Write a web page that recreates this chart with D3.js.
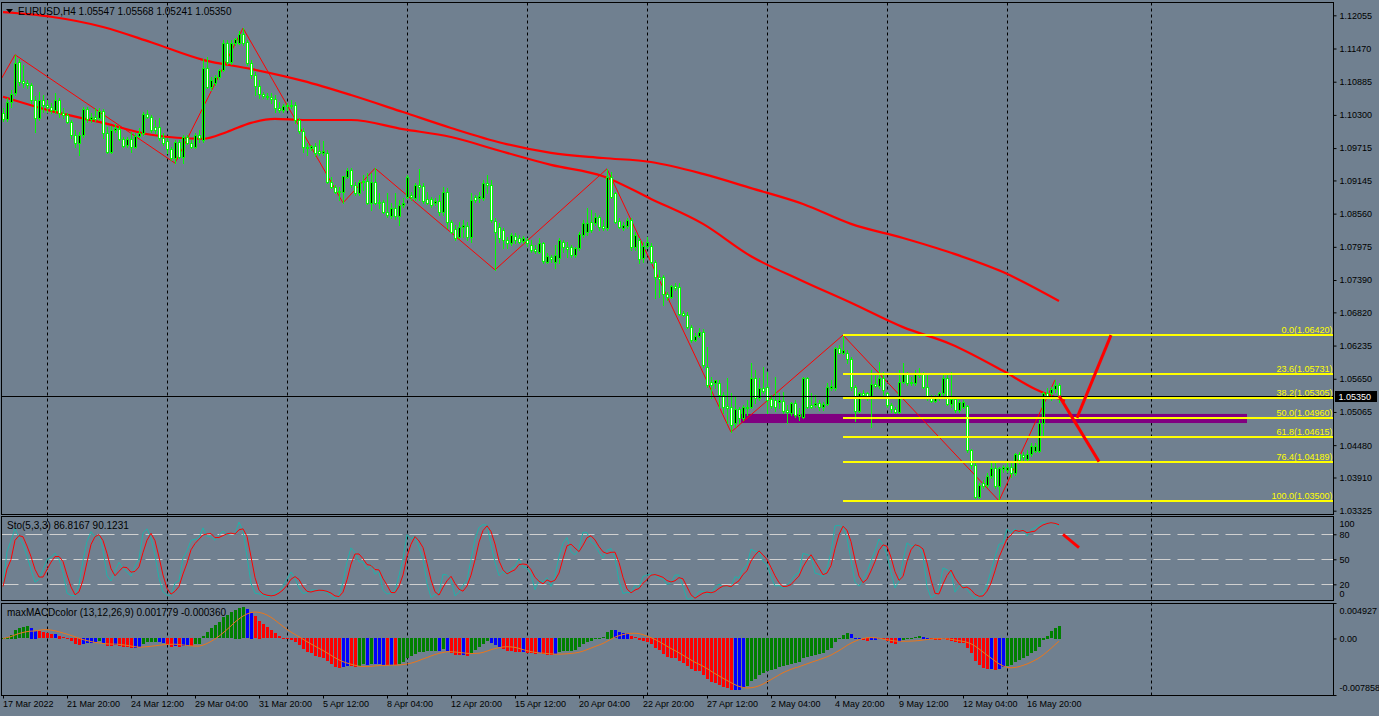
<!DOCTYPE html>
<html><head><meta charset="utf-8">
<script src="https://cdn.jsdelivr.net/npm/d3@7/dist/d3.min.js"></script>
<style>
html,body{margin:0;padding:0;background:#708090;overflow:hidden}
svg{display:block}
text{font-family:"Liberation Sans",Arial,sans-serif}
</style></head><body>
<script>
// ---------------- DATA ----------------
const titleText = "EURUSD,H4  1.05547 1.05568 1.05241 1.05350";
const stochTitle = "Sto(5,3,3) 86.8167 90.1231";
const macdTitle = "maxMACDcolor (13,12,26,9) 0.001779 -0.000360";

const opens = [
1.1033,1.1023,1.1053,1.1069,1.1123,1.1090,1.1086,1.1083,1.1056,1.1025,
1.1056,1.1047,1.1044,1.1039,1.1056,1.1033,1.1030,1.1017,1.0995,1.0980,
1.0995,1.1040,1.1023,1.1026,1.1025,1.1037,1.0998,1.0965,1.1003,1.1005,
1.0988,1.0977,1.0988,1.0973,1.0993,1.0998,1.1032,1.1026,1.1009,1.1009,
1.0989,1.0984,1.0970,1.0954,1.0982,1.0956,1.0991,1.0980,1.0973,1.0995,
1.0986,1.1113,1.1079,1.1086,1.1097,1.1109,1.1157,1.1123,1.1157,1.1157,
1.1173,1.1159,1.1122,1.1100,1.1081,1.1067,1.1063,1.1062,1.1058,1.1042,
1.1039,1.1046,1.1047,1.1047,1.1021,1.1002,1.0973,1.0972,1.0975,1.0966,
1.0963,1.0963,1.0912,1.0903,1.0894,1.0894,1.0921,1.0933,1.0907,1.0892,
1.0912,1.0914,1.0875,1.0912,1.0875,1.0876,1.0859,1.0852,1.0866,1.0852,
1.0871,1.0885,1.0889,1.0883,1.0907,1.0905,1.0882,1.0882,1.0875,1.0878,
1.0859,1.0894,1.0841,1.0829,1.0815,1.0833,1.0834,1.0815,1.0885,1.0883,
1.0883,1.0910,1.0907,1.0843,1.0833,1.0827,1.0810,1.0804,1.0817,1.0813,
1.0808,1.0810,1.0801,1.0794,1.0788,1.0804,1.0771,1.0780,1.0771,1.0778,
1.0806,1.0797,1.0797,1.0783,1.0795,1.0818,1.0824,1.0841,1.0840,1.0850,
1.0834,1.0831,1.0921,1.0892,1.0843,1.0831,1.0834,1.0845,1.0797,1.0810,
1.0778,1.0799,1.0799,1.0771,1.0744,1.0744,1.0714,1.0709,1.0729,1.0727,
1.0681,1.0677,1.0656,1.0633,1.0640,1.0647,1.0586,1.0559,1.0558,1.0558,
1.0536,1.0517,1.0515,1.0487,1.0512,1.0496,1.0515,1.0515,1.0566,1.0531,
1.0549,1.0550,1.0529,1.0528,1.0524,1.0526,1.0510,1.0505,1.0522,1.0499,
1.0498,1.0566,1.0519,1.0519,1.0522,1.0515,1.0521,1.0549,1.0549,1.0619,
1.0611,1.0611,1.0600,1.0550,1.0508,1.0540,1.0540,1.0531,1.0556,1.0552,
1.0566,1.0540,1.0519,1.0512,1.0506,1.0559,1.0573,1.0559,1.0558,1.0575,
1.0575,1.0550,1.0533,1.0526,1.0531,1.0540,1.0566,1.0521,1.0529,1.0510,
1.0515,1.0517,1.0439,1.0413,1.0357,1.0381,1.0378,1.0394,1.0408,1.0376,
1.0406,1.0404,1.0409,1.0399,1.0432,1.0430,1.0424,1.0432,1.0437,1.0437,
1.0487,1.0540,1.0540,1.0547,1.05547];

const highs = [
1.1042,1.1060,1.1074,1.1136,1.1129,1.1118,1.1092,1.1086,1.1063,1.1070,
1.1065,1.1056,1.1051,1.1069,1.1060,1.1042,1.1033,1.1021,1.1003,1.1000,
1.1044,1.1044,1.1033,1.1042,1.1042,1.1040,1.1009,1.1010,1.1014,1.1010,
1.0991,1.0991,1.1000,1.0998,1.1007,1.1035,1.1039,1.1030,1.1021,1.1025,
1.0998,1.0989,1.0973,1.0986,1.0986,1.0995,1.0995,1.0986,1.0998,1.1003,
1.1129,1.1132,1.1097,1.1100,1.1111,1.1162,1.1162,1.1162,1.1166,1.1178,
1.1183,1.1162,1.1127,1.1106,1.1092,1.1070,1.1069,1.1069,1.1065,1.1053,
1.1049,1.1051,1.1056,1.1053,1.1025,1.1007,1.0980,1.0977,1.0980,1.0986,
1.0984,1.0968,1.0921,1.0907,1.0903,1.0922,1.0936,1.0936,1.0912,1.0915,
1.0924,1.0928,1.0928,1.0936,1.0892,1.0880,1.0892,1.0875,1.0892,1.0880,
1.0883,1.0924,1.0894,1.0910,1.0935,1.0910,1.0894,1.0885,1.0883,1.0889,
1.0903,1.0901,1.0845,1.0836,1.0841,1.0845,1.0841,1.0892,1.0889,1.0894,
1.0915,1.0924,1.0915,1.0848,1.0840,1.0831,1.0815,1.0822,1.0822,1.0818,
1.0817,1.0813,1.0810,1.0801,1.0813,1.0806,1.0787,1.0783,1.0801,1.0813,
1.0810,1.0806,1.0801,1.0797,1.0824,1.0845,1.0866,1.0862,1.0857,1.0854,
1.0845,1.0935,1.0930,1.0894,1.0848,1.0841,1.0848,1.0848,1.0824,1.0813,
1.0806,1.0815,1.0804,1.0774,1.0757,1.0748,1.0718,1.0730,1.0734,1.0734,
1.0684,1.0683,1.0660,1.0646,1.0654,1.0653,1.0621,1.0568,1.0563,1.0563,
1.0541,1.0566,1.0540,1.0533,1.0515,1.0519,1.0528,1.0593,1.0580,1.0566,
1.0586,1.0577,1.0536,1.0568,1.0540,1.0542,1.0519,1.0524,1.0528,1.0513,
1.0568,1.0568,1.0540,1.0536,1.0528,1.0524,1.0558,1.0563,1.0621,1.0624,
1.0642,1.0616,1.0604,1.0554,1.0542,1.0545,1.0542,1.0580,1.0575,1.0595,
1.0577,1.0542,1.0522,1.0515,1.0580,1.0593,1.0577,1.0568,1.0580,1.0584,
1.0577,1.0575,1.0536,1.0536,1.0542,1.0575,1.0575,1.0577,1.0533,1.0528,
1.0528,1.0519,1.0442,1.0416,1.0381,1.0387,1.0399,1.0418,1.0418,1.0409,
1.0413,1.0418,1.0416,1.0434,1.0436,1.0436,1.0439,1.0451,1.0451,1.0492,
1.0542,1.0549,1.0550,1.0563,1.05568];

const lows = [
1.1019,1.1019,1.1044,1.1065,1.1083,1.1079,1.1077,1.1051,1.1000,1.1021,
1.1035,1.1035,1.1033,1.1033,1.1026,1.1025,1.1016,1.0989,1.0973,1.0959,
1.0991,1.1017,1.1017,1.1019,1.1021,1.0989,1.0963,1.0963,1.1000,1.0986,
1.0973,1.0973,1.0965,1.0972,1.0991,1.0995,1.1025,1.1000,1.0998,1.0986,
1.0977,1.0963,1.0951,1.0945,1.0954,1.0945,1.0979,1.0972,1.0972,1.0982,
1.0982,1.1077,1.1074,1.1083,1.1093,1.1107,1.1120,1.1120,1.1153,1.1155,
1.1153,1.1118,1.1095,1.1065,1.1060,1.1060,1.1058,1.1051,1.1035,1.1035,
1.1035,1.1039,1.1042,1.1016,1.0998,1.0965,1.0959,1.0968,1.0958,1.0959,
1.0959,1.0910,1.0901,1.0892,1.0880,1.0875,1.0919,1.0903,1.0889,1.0889,
1.0898,1.0873,1.0862,1.0873,1.0866,1.0857,1.0850,1.0848,1.0847,1.0836,
1.0868,1.0883,1.0880,1.0880,1.0880,1.0875,1.0873,1.0868,1.0871,1.0854,
1.0854,1.0831,1.0822,1.0810,1.0813,1.0815,1.0810,1.0806,1.0876,1.0876,
1.0880,1.0892,1.0841,1.0757,1.0806,1.0796,1.0795,1.0801,1.0804,1.0804,
1.0804,1.0799,1.0788,1.0787,1.0787,1.0769,1.0769,1.0771,1.0760,1.0769,
1.0788,1.0780,1.0780,1.0780,1.0792,1.0815,1.0818,1.0824,1.0836,1.0827,
1.0827,1.0827,1.0883,1.0840,1.0831,1.0827,1.0831,1.0792,1.0792,1.0769,
1.0771,1.0795,1.0769,1.0707,1.0709,1.0695,1.0704,1.0707,1.0721,1.0677,
1.0676,1.0654,1.0630,1.0632,1.0639,1.0586,1.0551,1.0531,1.0549,1.0513,
1.0505,1.0487,1.0471,1.0480,1.0487,1.0492,1.0501,1.0513,1.0522,1.0528,
1.0540,1.0505,1.0513,1.0508,1.0513,1.0505,1.0487,1.0501,1.0498,1.0492,
1.0496,1.0513,1.0513,1.0515,1.0510,1.0510,1.0519,1.0545,1.0545,1.0611,
1.0609,1.0593,1.0545,1.0491,1.0506,1.0531,1.0528,1.0480,1.0550,1.0549,
1.0536,1.0515,1.0506,1.0505,1.0505,1.0558,1.0554,1.0554,1.0554,1.0568,
1.0549,1.0528,1.0524,1.0524,1.0528,1.0536,1.0519,1.0515,1.0506,1.0506,
1.0513,1.0436,1.0407,1.0355,1.0355,1.0372,1.0374,1.0390,1.0372,1.0350,
1.0401,1.0401,1.0392,1.0395,1.0416,1.0418,1.0418,1.0429,1.0436,1.0436,
1.0466,1.0531,1.0528,1.0542,1.05241];

const closes = [
1.1023,1.1053,1.1067,1.1122,1.1088,1.1086,1.1083,1.1056,1.1025,1.1056,
1.1047,1.1044,1.1039,1.1056,1.1033,1.1030,1.1017,1.0995,1.0980,1.0995,
1.1040,1.1023,1.1026,1.1023,1.1037,1.0998,1.0965,1.1003,1.1007,1.0988,
1.0975,1.0988,1.0973,1.0993,1.0998,1.1032,1.1026,1.1003,1.1003,1.0989,
1.0980,1.0970,1.0954,1.0982,1.0956,1.0991,1.0980,1.0973,1.0995,1.0989,
1.1113,1.1079,1.1092,1.1097,1.1109,1.1157,1.1123,1.1157,1.1164,1.1173,
1.1157,1.1122,1.1100,1.1081,1.1067,1.1063,1.1062,1.1058,1.1042,1.1039,
1.1046,1.1047,1.1046,1.1021,1.1002,1.0973,1.0972,1.0975,1.0963,1.0963,
1.0966,1.0912,1.0903,1.0894,1.0896,1.0922,1.0933,1.0907,1.0892,1.0912,
1.0914,1.0875,1.0912,1.0875,1.0876,1.0859,1.0854,1.0866,1.0852,1.0871,
1.0875,1.0921,1.0885,1.0907,1.0903,1.0878,1.0875,1.0871,1.0878,1.0859,
1.0894,1.0841,1.0824,1.0813,1.0833,1.0836,1.0815,1.0880,1.0880,1.0887,
1.0910,1.0907,1.0845,1.0824,1.0813,1.0810,1.0804,1.0818,1.0810,1.0806,
1.0813,1.0804,1.0792,1.0790,1.0804,1.0773,1.0781,1.0776,1.0783,1.0810,
1.0797,1.0794,1.0783,1.0795,1.0820,1.0840,1.0840,1.0827,1.0850,1.0833,
1.0831,1.0921,1.0885,1.0841,1.0833,1.0836,1.0845,1.0797,1.0818,1.0776,
1.0799,1.0806,1.0771,1.0744,1.0741,1.0714,1.0709,1.0729,1.0725,1.0679,
1.0677,1.0656,1.0633,1.0640,1.0647,1.0589,1.0554,1.0554,1.0563,1.0536,
1.0515,1.0513,1.0483,1.0512,1.0496,1.0515,1.0513,1.0566,1.0531,1.0549,
1.0543,1.0528,1.0517,1.0515,1.0528,1.0508,1.0506,1.0522,1.0501,1.0503,
1.0566,1.0515,1.0515,1.0522,1.0515,1.0521,1.0550,1.0552,1.0619,1.0611,
1.0616,1.0600,1.0550,1.0508,1.0540,1.0536,1.0531,1.0556,1.0552,1.0566,
1.0545,1.0519,1.0512,1.0506,1.0559,1.0573,1.0558,1.0558,1.0575,1.0572,
1.0550,1.0531,1.0526,1.0531,1.0540,1.0566,1.0521,1.0529,1.0510,1.0524,
1.0524,1.0439,1.0413,1.0357,1.0378,1.0376,1.0394,1.0408,1.0376,1.0408,
1.0409,1.0409,1.0399,1.0432,1.0422,1.0427,1.0432,1.0446,1.0446,1.0487,
1.0540,1.0533,1.0547,1.0554,1.05350];

// slow and fast moving averages, read as [bar, price]
const maSlow = [[0,1.1211],[12,1.1203],[25,1.1185],[37,1.1158],[50,1.1127],[62,1.1111],[75,1.1090],[87,1.1065],[100,1.1035],[112,1.1007],[125,1.0980],[137,1.0963],[150,1.0954],[162,1.0947],[175,1.0926],[187,1.0901],[200,1.0873],[212,1.0838],[225,1.0813],[237,1.0787],[250,1.0753],[264,1.0702]];
const maFast = [[0,1.1062],[12,1.1037],[25,1.1016],[37,1.0995],[50,1.0988],[56,1.1000],[62,1.1016],[68,1.1023],[75,1.1021],[87,1.1021],[100,1.1005],[112,1.0991],[125,1.0965],[137,1.0942],[150,1.0922],[162,1.0882],[175,1.0838],[187,1.0781],[200,1.0737],[212,1.0699],[225,1.0656],[237,1.0626],[250,1.0579],[258,1.0547],[265.5,1.0526]];
const zigzag = [[-2,1.1074],[3,1.1136],[43,1.0945],[60,1.1183],[85,1.0875],[93,1.0936],[123,1.0757],[151,1.0935],[182,1.0471],[210,1.0642],[249,1.0350],[263,1.0563]];

const fibLevels = ["0.0","23.6","38.2","50.0","61.8","76.4","100.0"];
const fibPrices = [1.06420,1.05731,1.05305,1.04960,1.04615,1.04189,1.03500];
const fibStartBar = 210;
const zoneBars = [184.5, 311];
const zonePrices = [1.0503, 1.0487];
const projDown = [[264,1.0535],[274,1.0419]];
const projUp = [[268.5,1.0496],[277,1.0642]];
const stochProj = [[265,80],[269,64]];
const lastPrice = 1.05350;

const priceTicks = [1.12055,1.11470,1.10885,1.10300,1.09715,1.09145,1.08560,1.07975,1.07390,1.06820,1.06235,1.05650,1.05065,1.04480,1.03910,1.03325];
const timeTickBars = [0,16,32,48,64,80,96,112,128,144,160,176,192,208,224,240,256];
const timeLabels = ["17 Mar 2022","21 Mar 20:00","24 Mar 12:00","29 Mar 04:00","31 Mar 20:00","5 Apr 12:00","8 Apr 04:00","12 Apr 20:00","15 Apr 12:00","20 Apr 04:00","22 Apr 20:00","27 Apr 12:00","2 May 04:00","4 May 20:00","9 May 12:00","12 May 04:00","16 May 20:00"];
const gridBars = [11,41,71,101,131,161,191,221,251,287];
const stochTicks = [100,80,50,20,0];
const stochLevels = [80,50,20];
const macdTicks = [0.004927,0,-0.007858];
const macdTickLabels = ["0.004927","0.00","-0.007858"];

// ---------------- LAYOUT ----------------
const W=1379,H=716,L=1.5,R=1333.5;
const mainTop=2.5, mainBot=514.5, stTop=516.5, stBot=600.5, mdTop=603.5, mdBot=695.5;
const BG="#708090", LIME="#00ff00";

const X = d3.scaleLinear().domain([0,264]).range([3,1059]);
const Y = d3.scaleLinear().domain([1.03249,1.12325]).range([515,0]);
const YS = d3.scaleLinear().domain([0,100]).range([601,517.6]);
const YM = d3.scaleLinear().domain([-0.007858,0.004927]).range([695,603]);

const svg = d3.select("body").append("svg").attr("width",W).attr("height",H);
svg.append("rect").attr("width",W).attr("height",H).attr("fill",BG);
const defs = svg.append("defs");
function clip(id,y0,y1){defs.append("clipPath").attr("id",id).append("rect").attr("x",L).attr("y",y0).attr("width",R-L).attr("height",y1-y0);}
clip("cMain",mainTop,mainBot); clip("cSt",stTop,stBot); clip("cMd",mdTop,mdBot);

// grid
svg.append("g").selectAll("line").data(gridBars).join("line")
  .attr("x1",d=>Math.round(X(d))+0.5).attr("x2",d=>Math.round(X(d))+0.5)
  .attr("y1",mainTop).attr("y2",mdBot).attr("stroke","#000").attr("stroke-dasharray","3,3");

// ---------------- MAIN PANE ----------------
const main = svg.append("g").attr("clip-path","url(#cMain)");
main.append("rect").attr("x",X(zoneBars[0])).attr("width",X(zoneBars[1])-X(zoneBars[0]))
  .attr("y",Y(zonePrices[0])).attr("height",Y(zonePrices[1])-Y(zonePrices[0])).attr("fill","#800080");

const lineP = d3.line().x(d=>X(d[0])).y(d=>Y(d[1]));
main.append("path").attr("d",lineP.curve(d3.curveMonotoneX)(maSlow)).attr("fill","none").attr("stroke","#ff0000").attr("stroke-width",2.2);
main.append("path").attr("d",lineP.curve(d3.curveMonotoneX)(maFast)).attr("fill","none").attr("stroke","#ff0000").attr("stroke-width",2.2);
main.append("path").attr("d",d3.line().x(d=>X(d[0])).y(d=>Y(d[1]))(zigzag)).attr("fill","none").attr("stroke","#ff0000").attr("stroke-width",1);

const bars = opens.map((o,i)=>({i,o,h:highs[i],l:lows[i],c:closes[i]}));
const gC = main.append("g").attr("shape-rendering","crispEdges");
gC.selectAll("rect.w").data(bars).join("rect").attr("class","w")
  .attr("x",d=>Math.round(X(d.i))).attr("width",1)
  .attr("y",d=>Math.round(Y(d.h))).attr("height",d=>Math.max(1,Math.round(Y(d.l))-Math.round(Y(d.h))+1))
  .attr("fill",LIME);
gC.selectAll("rect.b").data(bars).join("rect").attr("class","b")
  .attr("x",d=>Math.round(X(d.i))-1).attr("width",3)
  .attr("y",d=>Math.round(Y(Math.max(d.o,d.c))))
  .attr("height",d=>Math.max(1,Math.round(Y(Math.min(d.o,d.c)))-Math.round(Y(Math.max(d.o,d.c)))+1))
  .attr("fill",LIME);
gC.selectAll("rect.f").data(bars.filter(d=>Math.round(Y(Math.min(d.o,d.c)))-Math.round(Y(Math.max(d.o,d.c)))>=2)).join("rect").attr("class","f")
  .attr("x",d=>Math.round(X(d.i))).attr("width",1)
  .attr("y",d=>Math.round(Y(Math.max(d.o,d.c)))+1)
  .attr("height",d=>Math.round(Y(Math.min(d.o,d.c)))-Math.round(Y(Math.max(d.o,d.c)))-1)
  .attr("fill",d=>d.c>d.o?"#000000":"#ffffff");

// current price line
main.append("line").attr("x1",L).attr("x2",R).attr("y1",Math.round(Y(lastPrice))+0.5).attr("y2",Math.round(Y(lastPrice))+0.5).attr("stroke","#000");

// fib
const fibG = main.append("g");
fibG.selectAll("line").data(fibPrices).join("line")
  .attr("x1",X(fibStartBar)).attr("x2",R).attr("y1",d=>Math.round(Y(d))).attr("y2",d=>Math.round(Y(d)))
  .attr("stroke","#ffff00").attr("stroke-width",2);
fibG.selectAll("text").data(fibPrices).join("text")
  .attr("x",R-1).attr("y",d=>Math.round(Y(d))-2).attr("text-anchor","end")
  .attr("font-size",9).attr("fill","#ffff00")
  .text((d,i)=>fibLevels[i]+"("+d3.format(".5f")(d)+")");

// projection lines
main.append("path").attr("d",d3.line().x(d=>X(d[0])).y(d=>Y(d[1]))(projDown)).attr("stroke","#ff0000").attr("stroke-width",3).attr("fill","none");
main.append("path").attr("d",d3.line().x(d=>X(d[0])).y(d=>Y(d[1]))(projUp)).attr("stroke","#ff0000").attr("stroke-width",3).attr("fill","none");

// title
svg.append("path").attr("d","M6,9 L13,9 L9.5,13 Z").attr("fill","#000");
svg.append("text").attr("x",18).attr("y",14.5).attr("font-size",10).attr("fill","#000").text(titleText);

// ---------------- STOCHASTIC ----------------
const K=5, SL=3, D=3;
const stMain = closes.map((c,i)=>{
  let num=0,den=0;
  for(let j=Math.max(0,i-SL+1);j<=i;j++){
    const a=Math.max(0,j-K+1);
    const ll=d3.min(lows.slice(a,j+1)), hh=d3.max(highs.slice(a,j+1));
    num+=closes[j]-ll; den+=hh-ll;
  }
  return den>0?100*num/den:50;
});
const stSig = stMain.map((v,i)=>d3.mean(stMain.slice(Math.max(0,i-D+1),i+1)));
const st = svg.append("g").attr("clip-path","url(#cSt)");
st.selectAll("line").data(stochLevels).join("line")
  .attr("x1",L).attr("x2",R).attr("y1",d=>Math.round(YS(d))+0.5).attr("y2",d=>Math.round(YS(d))+0.5)
  .attr("stroke","#d0d0d0").attr("stroke-dasharray","17,7");
const lineS = d3.line().x((d,i)=>X(i)).y(d=>YS(d));
st.append("path").attr("d",lineS(stMain)).attr("fill","none").attr("stroke","#20b2aa").attr("stroke-width",1);
st.append("path").attr("d",lineS(stSig)).attr("fill","none").attr("stroke","#ff0000").attr("stroke-width",1);
st.append("path").attr("d",d3.line().x(d=>X(d[0])).y(d=>YS(d[1]))(stochProj)).attr("stroke","#ff0000").attr("stroke-width",3).attr("fill","none");
svg.append("text").attr("x",7).attr("y",529).attr("font-size",10).attr("fill","#000").text(stochTitle);

// ---------------- MACD ----------------
const macd=[]; let e12, e26;
closes.forEach((c,i)=>{
  if(i===0){e12=c;e26=c;} else {e12+= (2/13)*(c-e12); e26+=(2/27)*(c-e26);}
  macd.push(e12-e26);
});
const macdSig = macd.map((v,i)=>d3.mean(macd.slice(Math.max(0,i-8),i+1)));
const macdCol = macd.map((v,i)=>{
  const up = i===0 ? true : v>=macd[i-1];
  const above = v>=macdSig[i];
  if(up&&above) return "#008000";
  if(!up&&!above) return "#ff0000";
  return "#0000ff";
});
const md = svg.append("g").attr("clip-path","url(#cMd)");
md.append("g").attr("shape-rendering","crispEdges").selectAll("rect").data(macd).join("rect")
  .attr("x",(d,i)=>Math.round(X(i))-1).attr("width",3)
  .attr("y",d=>Math.round(Math.min(YM(d),YM(0))))
  .attr("height",d=>Math.max(1,Math.round(Math.abs(YM(d)-YM(0)))))
  .attr("fill",(d,i)=>macdCol[i]);
md.append("path").attr("d",d3.line().x((d,i)=>X(i)).y(d=>YM(d))(macdSig)).attr("fill","none").attr("stroke","#e8761e").attr("stroke-width",1);
svg.append("text").attr("x",7).attr("y",616).attr("font-size",10).attr("fill","#000").text(macdTitle);

// ---------------- FRAMES ----------------
[[mainTop,mainBot],[stTop,stBot],[mdTop,mdBot]].forEach(([a,b])=>{
  svg.append("rect").attr("x",L).attr("y",a).attr("width",R-L).attr("height",b-a).attr("fill","none").attr("stroke","#000");
});

// ---------------- AXES ----------------
const fontAxis = g=>g.selectAll("text").attr("font-size",9).attr("fill","#000").attr("font-family","Liberation Sans, Arial, sans-serif");
const ax = svg.append("g").attr("transform",`translate(${R},0)`)
  .call(d3.axisRight(Y).tickValues(priceTicks).tickFormat(d3.format(".5f")).tickSizeInner(3).tickSizeOuter(0).tickPadding(3));
ax.select(".domain").remove(); ax.selectAll("line").attr("stroke","#000"); fontAxis(ax);

const axS = svg.append("g").attr("transform",`translate(${R},0)`)
  .call(d3.axisRight(YS).tickValues(stochTicks).tickSizeInner(3).tickSizeOuter(0).tickPadding(3));
axS.select(".domain").remove(); axS.selectAll("line").attr("stroke","#000"); fontAxis(axS);
axS.selectAll(".tick").filter(d=>d===100).select("text").attr("dy","0.95em");
axS.selectAll(".tick").filter(d=>d===0).select("text").attr("dy","-0.45em");
axS.selectAll(".tick").filter(d=>d===100||d===0).select("line").remove();

const axM = svg.append("g").attr("transform",`translate(${R},0)`)
  .call(d3.axisRight(YM).tickValues(macdTicks).tickFormat((d,i)=>macdTickLabels[i]).tickSizeInner(3).tickSizeOuter(0).tickPadding(3));
axM.select(".domain").remove(); axM.selectAll("line").attr("stroke","#000"); fontAxis(axM);
axM.selectAll(".tick").filter((d,i)=>i===0).select("text").attr("dy","1.2em");
axM.selectAll(".tick").filter((d,i)=>i===2).select("text").attr("dy","-0.5em");

const axT = svg.append("g").attr("transform",`translate(0,${mdBot})`)
  .call(d3.axisBottom(X).tickValues(timeTickBars).tickFormat((d,i)=>timeLabels[i]).tickSizeInner(3).tickSizeOuter(0).tickPadding(2));
axT.select(".domain").remove(); axT.selectAll("line").attr("stroke","#000"); fontAxis(axT);
axT.selectAll("text").attr("text-anchor","start").attr("x",-0.5);

// current price label
const yl = Math.round(Y(lastPrice));
svg.append("rect").attr("x",R+1.5).attr("y",yl-5).attr("width",42).attr("height",11).attr("fill","#000");
svg.append("text").attr("x",R+5).attr("y",yl+3.5).attr("font-size",9).attr("fill","#fff").text(d3.format(".5f")(lastPrice));
</script>
</body></html>
